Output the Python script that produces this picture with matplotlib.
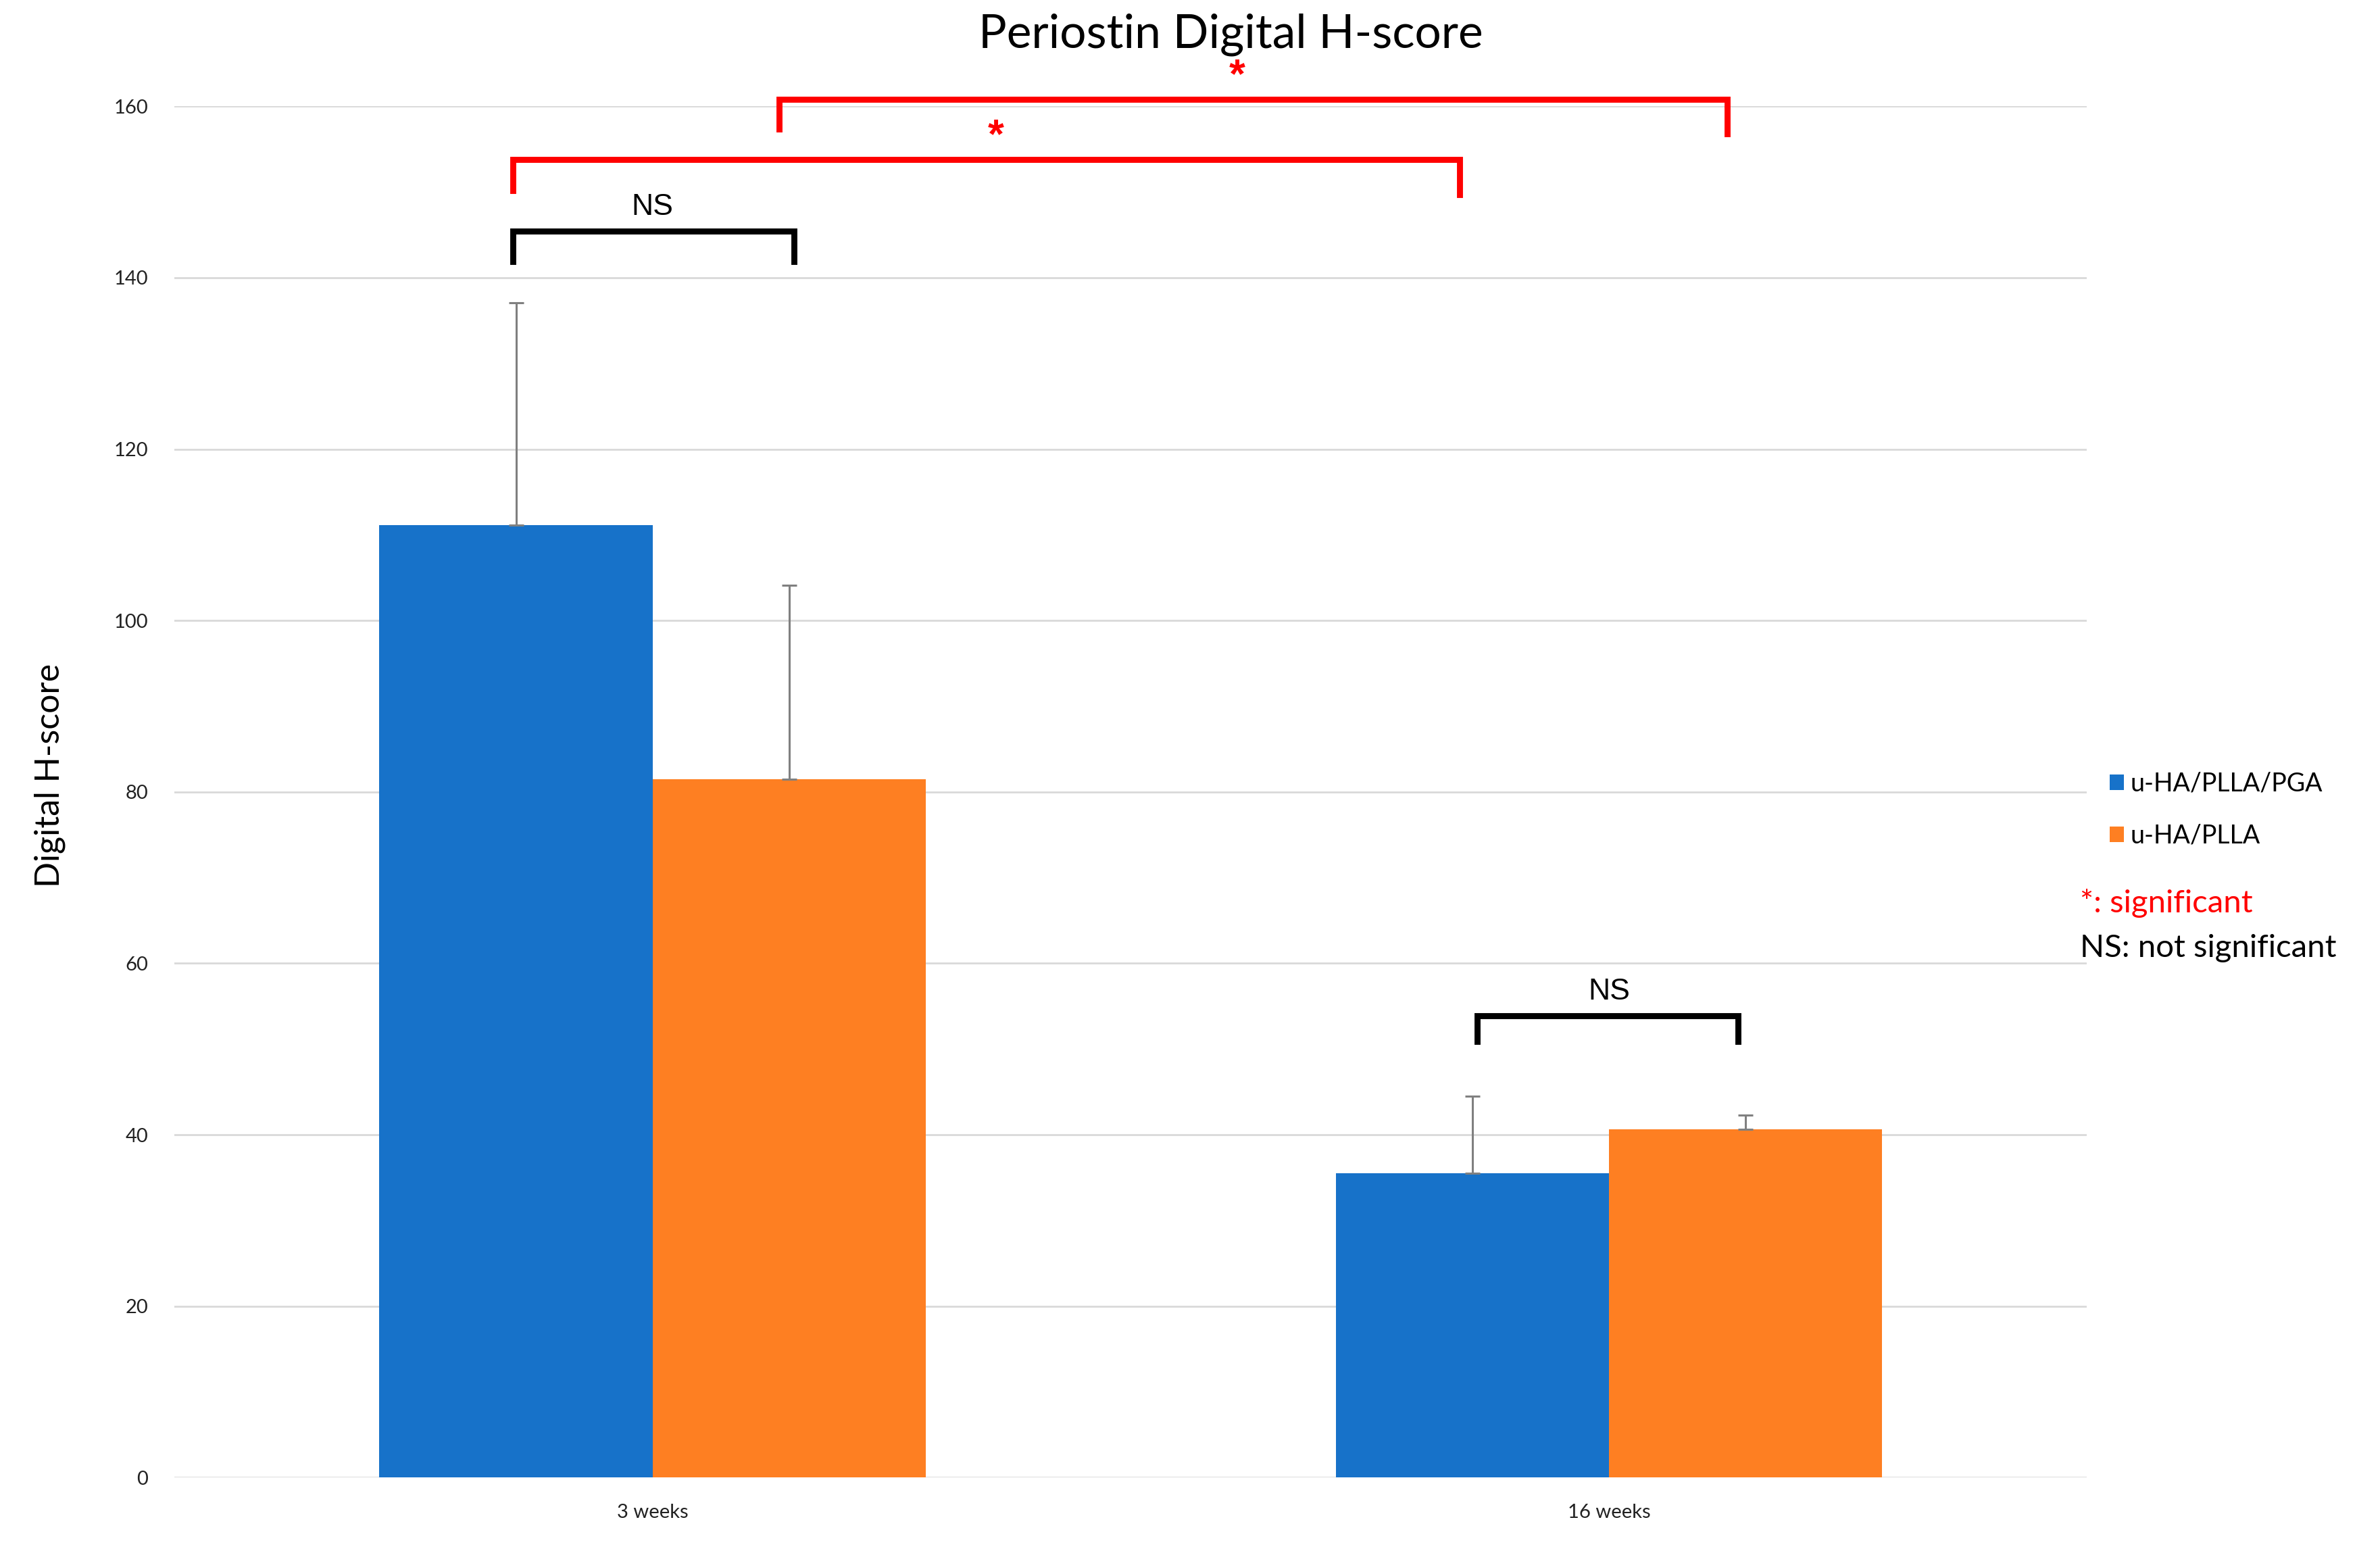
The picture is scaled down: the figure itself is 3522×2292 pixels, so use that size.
import numpy as np
import matplotlib
matplotlib.use("Agg")
import matplotlib.pyplot as plt

plt.rcParams['font.family'] = ['Lato', 'DejaVu Sans']

# data
categories = ['3 weeks', '16 weeks']
series_names = ['u-HA/PLLA/PGA', 'u-HA/PLLA']
pga_mean = [111.1, 35.5]
plla_mean = [81.5, 40.6]
pga_err = [26.0, 9.0]
plla_err = [22.6, 1.7]
colors = ['#1772C9', '#FE7F22']

# significance brackets: (x_left, x_right, y_line, y_left_end, y_right_end, label, label_x, color)
brackets = [
    (-0.146, 0.148, 145.4, 141.9, 141.9, 'NS', 0.0, 'black'),
    (0.862, 1.135, 53.9, 50.9, 50.9, 'NS', 1.0, 'black'),
    (-0.146, 0.844, 153.8, 150.2, 149.7, '*', 0.359, 'red'),
    (0.132, 1.124, 160.8, 157.3, 156.8, '*', 0.611, 'red'),
]

fig = plt.figure(figsize=(17.61, 11.46), dpi=200)
ax = fig.add_axes([0.0733, 0.0461, 0.8036, 0.8853])

x = np.arange(len(categories))
w = 0.2857
ekw = dict(ecolor='#808080', elinewidth=1.1, capsize=4, capthick=1.1)
ax.bar(x - w / 2, pga_mean, w, color=colors[0], label=series_names[0],
       yerr=[np.zeros(2), pga_err], error_kw=ekw, zorder=3)
ax.bar(x + w / 2, plla_mean, w, color=colors[1], label=series_names[1],
       yerr=[np.zeros(2), plla_err], error_kw=ekw, zorder=3)

ax.set_xlim(-0.5, 1.5)
ax.set_ylim(0, 160)
ax.set_yticks(np.arange(0, 161, 20))
ax.set_xticks(x)
ax.set_xticklabels(categories, fontsize=10.5, color='#222222')
ax.tick_params(axis='y', labelsize=10.5, length=0, pad=14, colors='#222222')
ax.tick_params(axis='x', length=0, pad=14)
ax.grid(axis='y', color='#D9D9D9', linewidth=1.0, zorder=0)
for s in ax.spines.values():
    s.set_visible(False)

ax.set_ylabel('Digital H-score', fontsize=18)
ax.yaxis.set_label_coords(-0.057, 0.512)
fig.text(0.517, 0.9775, 'Periostin Digital H-score', fontsize=25,
         ha='center', va='center')

for xl, xr, yl, yle, yre, lab, lx, c in brackets:
    ax.plot([xl, xl, xr, xr], [yle, yl, yl, yre], color=c, lw=3.2,
            clip_on=False, solid_joinstyle='miter', zorder=5)
    if lab == 'NS':
        ax.text(lx, yl + 1.2, lab, ha='center', va='bottom',
                fontsize=16, family='Liberation Sans', color=c)
    else:
        ax.text(lx, yl + 0.4, lab, ha='center', va='bottom',
                fontsize=22, family='Liberation Sans', color=c, fontweight='bold')

leg = ax.legend(loc='center left', bbox_to_anchor=(1.0, 0.487), frameon=False,
                fontsize=13.5, handlelength=0.55, handleheight=0.55,
                handletextpad=0.25, labelspacing=1.1)

fig.text(0.874, 0.417, '*: significant', color='red', fontsize=17, va='center')
fig.text(0.874, 0.388, 'NS: not significant', color='black', fontsize=17, va='center')

fig.savefig('out.png', dpi=200, facecolor='white')
